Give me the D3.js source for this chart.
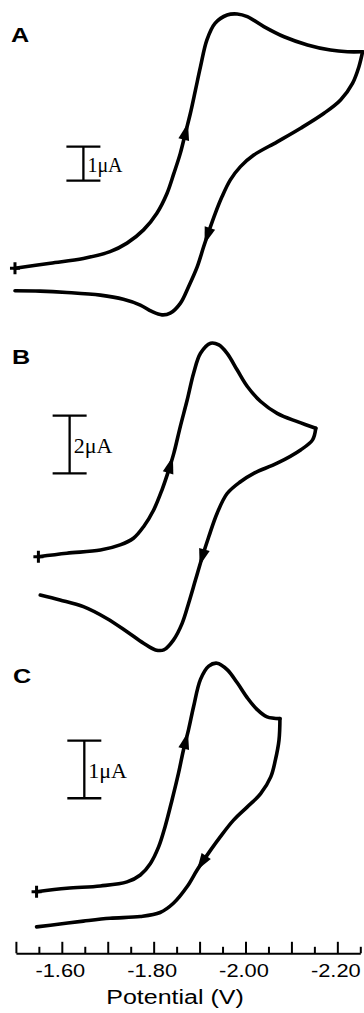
<!DOCTYPE html>
<html>
<head>
<meta charset="utf-8">
<script src="https://cdn.jsdelivr.net/npm/d3@7"></script>
<style>
  body { margin: 0; background: #fff; }
  svg { display: block; }
</style>
</head>
<body>
<div id="chart"></div>
<script>
// potential (V) vs current (uA)
// forward = scan toward negative potential, reverse = return scan
var cvA_forward = [[-1.498,0],[-1.575,0.15],[-1.647,0.29],[-1.705,0.49],[-1.742,0.74],[-1.778,1.13],[-1.807,1.62],[-1.829,2.20],[-1.844,2.79],[-1.858,3.38],[-1.869,3.97],[-1.880,4.56],[-1.891,5.24],[-1.902,5.93],[-1.916,6.72],[-1.934,7.21],[-1.960,7.45],[-1.982,7.48],[-2.004,7.40],[-2.040,7.11],[-2.084,6.81],[-2.135,6.57],[-2.185,6.42],[-2.222,6.37],[-2.255,6.37]];
var cvA_reverse = [[-2.255,6.37],[-2.247,5.93],[-2.233,5.44],[-2.207,4.95],[-2.171,4.56],[-2.120,4.12],[-2.069,3.72],[-2.018,3.33],[-1.989,2.99],[-1.967,2.60],[-1.949,2.11],[-1.934,1.61],[-1.920,1.08],[-1.909,0.64],[-1.895,0.05],[-1.876,-0.54],[-1.858,-1.03],[-1.836,-1.32],[-1.818,-1.37],[-1.796,-1.27],[-1.771,-1.08],[-1.734,-0.91],[-1.684,-0.79],[-1.611,-0.71],[-1.553,-0.67],[-1.498,-0.66]];

var cvB_forward = [[-1.549,0],[-1.611,0.12],[-1.684,0.23],[-1.727,0.41],[-1.756,0.64],[-1.778,1.04],[-1.800,1.62],[-1.818,2.31],[-1.833,3.01],[-1.844,3.59],[-1.858,4.51],[-1.873,5.43],[-1.887,6.36],[-1.902,7.05],[-1.924,7.40],[-1.942,7.34],[-1.960,7.05],[-1.982,6.47],[-2.004,5.90],[-2.033,5.38],[-2.069,4.97],[-2.113,4.68],[-2.153,4.45]];
var cvB_reverse = [[-2.153,4.45],[-2.146,4.05],[-2.120,3.70],[-2.069,3.24],[-2.018,2.89],[-1.989,2.60],[-1.960,2.19],[-1.938,1.50],[-1.920,0.69],[-1.906,0.0],[-1.891,-0.81],[-1.876,-1.62],[-1.862,-2.31],[-1.843,-2.89],[-1.822,-3.23],[-1.804,-3.23],[-1.778,-3.00],[-1.742,-2.60],[-1.698,-2.14],[-1.647,-1.73],[-1.596,-1.50],[-1.553,-1.33]];

var cvC_forward = [[-1.545,0],[-1.611,0.06],[-1.684,0.10],[-1.742,0.17],[-1.771,0.29],[-1.793,0.49],[-1.811,0.78],[-1.825,1.13],[-1.840,1.59],[-1.854,2.05],[-1.865,2.46],[-1.876,2.81],[-1.887,3.21],[-1.902,3.68],[-1.920,3.91],[-1.938,3.96],[-1.960,3.85],[-1.982,3.62],[-2.004,3.36],[-2.025,3.16],[-2.047,3.03],[-2.075,3.00]];
var cvC_reverse = [[-2.075,3.00],[-2.073,2.63],[-2.065,2.28],[-2.055,1.99],[-2.033,1.70],[-2.004,1.47],[-1.974,1.24],[-1.945,0.95],[-1.924,0.72],[-1.895,0.38],[-1.873,0.09],[-1.843,-0.20],[-1.814,-0.36],[-1.771,-0.43],[-1.705,-0.46],[-1.647,-0.51],[-1.596,-0.56],[-1.545,-0.61]];

// arrow positions (potential) on forward / reverse scan
var arrowsA = [-1.873, -1.913];
var arrowsB = [-1.840, -1.902];
var arrowsC = [-1.873, -1.898];

// scale bars: [potential, lower current, size in uA]
var barA = [-1.647, 2.58, 1];
var barB = [-1.617, 2.89, 2];
var barC = [-1.649, 1.62, 1];

var majorTicks = [-1.5,-1.6,-1.7,-1.8,-1.9,-2.0,-2.1,-2.2];
var minorTicks = [-1.55,-1.65,-1.75,-1.85,-1.95,-2.05,-2.15,-2.25];
var tickLabels = [-1.6,-1.8,-2.0,-2.2];

var width = 364, height = 1013;
var sans = "'Liberation Sans', Arial, Helvetica, sans-serif";
var serif = "'Liberation Serif', 'Times New Roman', serif";

var svg = d3.select("#chart").append("svg")
    .attr("width", width)
    .attr("height", height);

var x = d3.scaleLinear().domain([-1.5, -2.25]).range([15.9, 360.3]);

// each panel has its own current scale
var panels = [
  {label: "A", fwd: cvA_forward, rev: cvA_reverse, arrows: arrowsA, bar: barA, unit: "1\u03bcA",
   zero: 268.3, px: 34, lx: 11, ly: 42, fs: 20},
  {label: "B", fwd: cvB_forward, rev: cvB_reverse, arrows: arrowsB, bar: barB, unit: "2\u03bcA",
   zero: 556.7, px: 28.85, lx: 12, ly: 364, fs: 22},
  {label: "C", fwd: cvC_forward, rev: cvC_reverse, arrows: arrowsC, bar: barC, unit: "1\u03bcA",
   zero: 891.7, px: 57.7, lx: 13, ly: 683, fs: 22}
];

function placeArrow(g, node, E) {
  var tx = x(E), L = node.getTotalLength();
  var best = 0, bd = Infinity;
  for (var l = 0; l <= L; l += 0.5) {
    var p = node.getPointAtLength(l);
    var d = Math.abs(p.x - tx);
    if (d < bd) { bd = d; best = l; }
  }
  var pt = node.getPointAtLength(best),
      a = node.getPointAtLength(Math.max(0, best - 3)),
      b = node.getPointAtLength(Math.min(L, best + 3));
  var ang = Math.atan2(b.y - a.y, b.x - a.x) * 180 / Math.PI;
  g.append("path")
      .attr("d", "M3,0L-14,-5.5L-14,5.5Z")
      .attr("fill", "#000")
      .attr("transform", "translate(" + pt.x + "," + pt.y + ") rotate(" + ang + ")");
}

panels.forEach(function(p) {
  var y = d3.scaleLinear().domain([0, 1]).range([p.zero, p.zero - p.px]);
  var g = svg.append("g");

  var line = d3.line()
      .x(function(d) { return x(d[0]); })
      .y(function(d) { return y(d[1]); })
      .curve(d3.curveCatmullRom.alpha(0.5));

  var f = g.append("path").datum(p.fwd)
      .attr("d", line)
      .attr("fill", "none").attr("stroke", "#000")
      .attr("stroke-width", 3.6).attr("stroke-linejoin", "round").attr("stroke-linecap", "round");
  var r = g.append("path").datum(p.rev)
      .attr("d", line)
      .attr("fill", "none").attr("stroke", "#000")
      .attr("stroke-width", 3.6).attr("stroke-linejoin", "round").attr("stroke-linecap", "round");

  placeArrow(g, f.node(), p.arrows[0]);
  placeArrow(g, r.node(), p.arrows[1]);

  // start marker
  var sx = x(p.fwd[0][0]), sy = y(p.fwd[0][1]);
  g.append("path")
      .attr("d", "M" + (sx - 5) + "," + sy + "H" + (sx + 5) + "M" + sx + "," + (sy - 6) + "V" + (sy + 6))
      .attr("stroke", "#000").attr("stroke-width", 3);

  // scale bar
  var bx = x(p.bar[0]), b0 = y(p.bar[1]), b1 = y(p.bar[1] + p.bar[2]);
  g.append("path")
      .attr("d", "M" + (bx - 17) + "," + b1 + "H" + (bx + 17) +
                 "M" + bx + "," + b1 + "V" + b0 +
                 "M" + (bx - 17) + "," + b0 + "H" + (bx + 17))
      .attr("fill", "none").attr("stroke", "#000").attr("stroke-width", 2.3);
  g.append("text")
      .attr("x", bx + 4)
      .attr("y", (b0 + b1) / 2 + p.fs * 0.4)
      .attr("font-family", serif)
      .attr("font-size", p.fs)
      .text(p.unit);

  g.append("text")
      .attr("transform", "translate(" + p.lx + "," + p.ly + ") scale(1.2,1)")
      .attr("font-family", sans)
      .attr("font-weight", "bold")
      .attr("font-size", 21)
      .text(p.label);
});

// potential axis, ticks pointing up
var axisY = 953.3;
var axMinor = svg.append("g")
    .attr("transform", "translate(0," + axisY + ")")
    .call(d3.axisBottom(x).tickValues(minorTicks).tickSize(-6.5).tickSizeOuter(0).tickFormat(""));
var axMajor = svg.append("g")
    .attr("transform", "translate(0," + axisY + ")")
    .call(d3.axisBottom(x).tickValues(majorTicks).tickSize(-11.5).tickSizeOuter(0)
      .tickFormat(function(d) {
        return tickLabels.some(function(t) { return Math.abs(t - d) < 1e-9; }) ? d.toFixed(2) : "";
      }));

[axMinor, axMajor].forEach(function(ax) {
  ax.select(".domain").attr("stroke-width", 2);
  ax.selectAll(".tick line").attr("stroke-width", 2);
});
axMinor.select(".domain").remove();

axMajor.selectAll(".tick text")
    .attr("y", 24).attr("dy", null)
    .attr("transform", "translate(-2,0) scale(1.15,1)")
    .attr("font-family", sans)
    .attr("font-size", 19)
    .attr("fill", "#000");

svg.append("text")
    .attr("transform", "translate(175,1004) scale(1.25,1)")
    .attr("text-anchor", "middle")
    .attr("font-family", sans)
    .attr("font-size", 20)
    .text("Potential (V)");
</script>
</body>
</html>
